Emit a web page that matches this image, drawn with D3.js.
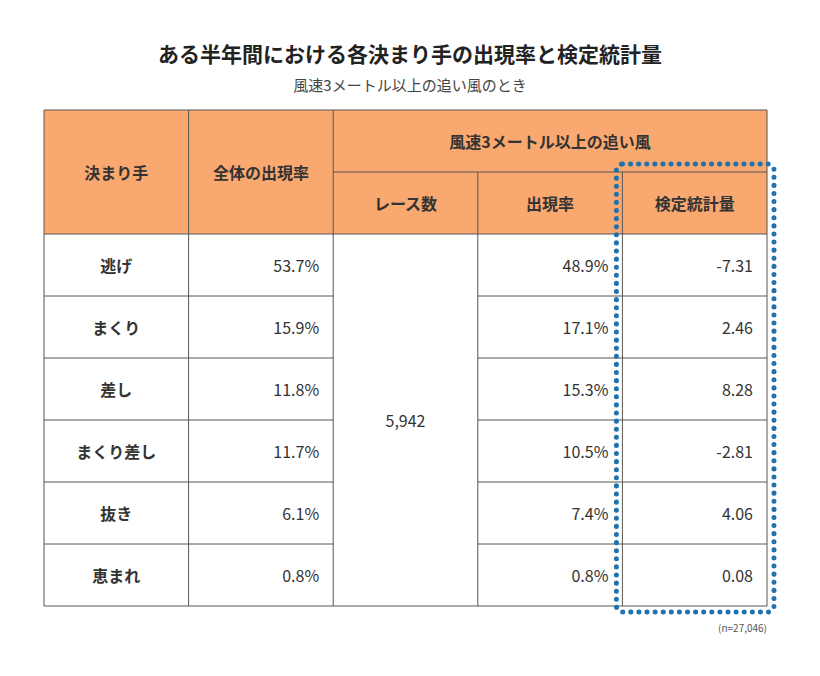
<!DOCTYPE html>
<html><head><meta charset="utf-8">
<script src="https://cdn.jsdelivr.net/npm/d3@7"></script>
<style>body{margin:0;background:#fff;font-family:"Noto Sans CJK JP","Noto Sans",sans-serif;}</style>
</head><body><svg id="c" width="820" height="676"></svg>
<script>
const kimarite = ["逃げ", "まくり", "差し", "まくり差し", "抜き", "恵まれ"];
const overallRate = ["53.7%", "15.9%", "11.8%", "11.7%", "6.1%", "0.8%"];
const raceCount = "5,942";
const windRate = ["48.9%", "17.1%", "15.3%", "10.5%", "7.4%", "0.8%"];
const testStat = ["-7.31", "2.46", "8.28", "-2.81", "4.06", "0.08"];

const svg = d3.select("#c");
const x = d3.scaleLinear().domain([0, 5]).range([44, 767]);
const hTop = 110, hMid = 172, bodyTop = 234, rowH = 62;
const y = d3.scaleLinear().domain([0, 6]).range([bodyTop, bodyTop + rowH * 6]);
const orange = "#f9a86f", line = "#555", txt = "#333";

svg.append("text").attr("x", 410).attr("y", 62).attr("text-anchor", "middle")
  .attr("font-size", 21).attr("font-weight", "bold").attr("fill", "#222")
  .text("ある半年間における各決まり手の出現率と検定統計量");
svg.append("text").attr("x", 410).attr("y", 91).attr("text-anchor", "middle")
  .attr("font-size", 15).attr("fill", "#444").text("風速3メートル以上の追い風のとき");

// header background
svg.append("rect").attr("x", x(0)).attr("y", hTop).attr("width", x(5) - x(0))
  .attr("height", bodyTop - hTop).attr("fill", orange);

const g = svg.append("g").attr("font-size", 16).attr("fill", txt);
function t(s, xx, yy, anchor, bold) {
  g.append("text").attr("x", xx).attr("y", yy).attr("text-anchor", anchor)
    .attr("dominant-baseline", "central").attr("font-weight", bold ? "bold" : "normal")
    .attr("fill", txt).text(s);
}
const cx = i => (x(i) + x(i + 1)) / 2;
t("決まり手", cx(0), (hTop + bodyTop) / 2, "middle", true);
t("全体の出現率", cx(1), (hTop + bodyTop) / 2, "middle", true);
t("風速3メートル以上の追い風", (x(2) + x(5)) / 2, (hTop + hMid) / 2, "middle", true);
["レース数", "出現率", "検定統計量"].forEach((s, i) => t(s, cx(i + 2), (hMid + bodyTop) / 2, "middle", true));

kimarite.forEach((k, i) => {
  const yy = (y(i) + y(i + 1)) / 2;
  t(k, cx(0), yy, "middle", true);
  t(overallRate[i], x(2) - 14, yy, "end");
  t(windRate[i], x(4) - 14, yy, "end");
  t(testStat[i], x(5) - 14, yy, "end");
});
t(raceCount, cx(2), (y(0) + y(6)) / 2, "middle");

// grid lines
const L = svg.append("g").attr("stroke", line).attr("stroke-width", 1);
const hl = (x1, x2, yy) => L.append("line").attr("x1", x1).attr("x2", x2).attr("y1", yy).attr("y2", yy);
const vl = (xx, y1, y2) => L.append("line").attr("x1", xx).attr("x2", xx).attr("y1", y1).attr("y2", y2);
hl(x(0), x(5), hTop);
hl(x(2), x(5), hMid);
hl(x(0), x(5), bodyTop);
for (let i = 1; i < 6; i++) { hl(x(0), x(2), y(i)); hl(x(3), x(5), y(i)); }
hl(x(0), x(5), y(6));
[0, 1, 2, 5].forEach(i => vl(x(i), hTop, y(6)));
[3, 4].forEach(i => vl(x(i), hMid, y(6)));

// dotted highlight
svg.append("rect").attr("x", x(4) - 6).attr("y", hMid - 8).attr("width", x(5) - x(4) + 13)
  .attr("height", y(6) - hMid + 14).attr("rx", 6).attr("fill", "none")
  .attr("stroke", "#1f72ad").attr("stroke-width", 5).attr("stroke-dasharray", "0.1 8")
  .attr("stroke-linecap", "round");

svg.append("text").attr("x", x(5)).attr("y", 632).attr("text-anchor", "end")
  .attr("font-size", 10).attr("fill", "#555").text("(n=27,046)");
</script></body></html>
